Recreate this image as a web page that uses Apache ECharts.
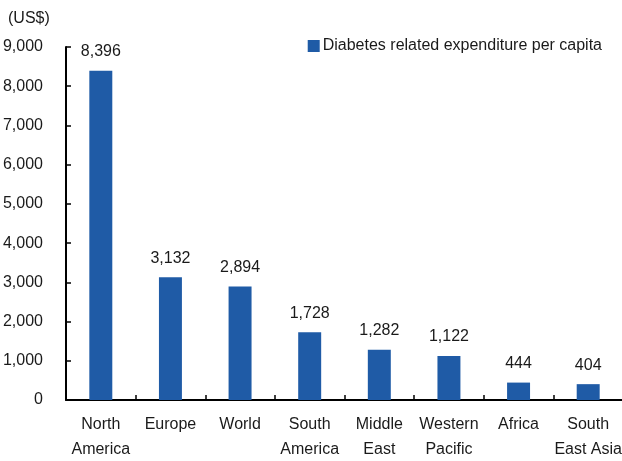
<!DOCTYPE html>
<html>
<head>
<meta charset="utf-8">
<script src="https://cdn.jsdelivr.net/npm/echarts@6/dist/echarts.min.js"></script>
<style>
  html, body { margin: 0; padding: 0; background: #fff; }
  #chart { width: 622px; height: 461px; }
</style>
</head>
<body>
<div id="chart"></div>
<script>
// Regions shown along the x axis
const regions = ['North\nAmerica', 'Europe', 'World', 'South\nAmerica', 'Middle\nEast', 'Western\nPacific', 'Africa', 'South\nEast Asia'];
// Diabetes related expenditure per capita (US$)
const spending = [8396, 3132, 2894, 1728, 1282, 1122, 444, 404];
const seriesName = 'Diabetes related expenditure per capita';
const yMin = 0, yMax = 9000, yStep = 1000;

const FONT = '"Liberation Sans", Arial, sans-serif';
const INK = '#1a1a1a';
const FS = 16;

const chart = echarts.init(document.getElementById('chart'), null, { renderer: 'canvas' });
chart.setOption({
  animation: false,
  textStyle: { fontFamily: FONT, color: INK },
  grid: { left: 66, top: 47, width: 557, height: 353, containLabel: false, outerBoundsMode: 'none' },
  title: {
    text: '(US$)', left: 3, top: 6,
    textStyle: { fontFamily: FONT, fontSize: FS, fontWeight: 'normal', color: INK }
  },
  legend: {
    data: [seriesName], right: 15, top: 33,
    icon: 'rect', itemWidth: 12, itemHeight: 12, itemGap: 4,
    textStyle: { fontFamily: FONT, fontSize: FS, color: INK, padding: [0, 0, 0, -2] }
  },
  xAxis: {
    type: 'category', data: regions,
    axisLine: { lineStyle: { color: '#000', width: 2 } },
    axisTick: { show: true, inside: true, length: 5, alignWithLabel: false, lineStyle: { color: '#000', width: 1.5 } },
    axisLabel: { fontFamily: FONT, fontSize: FS, color: INK, margin: 12, lineHeight: 25, interval: 0 }
  },
  yAxis: {
    type: 'value', min: yMin, max: yMax, interval: yStep,
    axisLine: { show: true, lineStyle: { color: '#000', width: 2 } },
    axisTick: { show: true, inside: true, length: 5, lineStyle: { color: '#000', width: 1.5 } },
    splitLine: { show: false },
    axisLabel: {
      fontFamily: FONT, fontSize: FS, color: INK, margin: 23,
      formatter: v => v.toLocaleString('en-US')
    }
  },
  series: [{
    name: seriesName, type: 'bar', data: spending,
    barWidth: '33%',
    itemStyle: { color: '#1f5ba6' },
    label: {
      show: true, position: 'top', distance: 11,
      fontFamily: FONT, fontSize: FS, color: INK,
      formatter: p => p.value.toLocaleString('en-US')
    }
  }]
});
</script>
</body>
</html>
